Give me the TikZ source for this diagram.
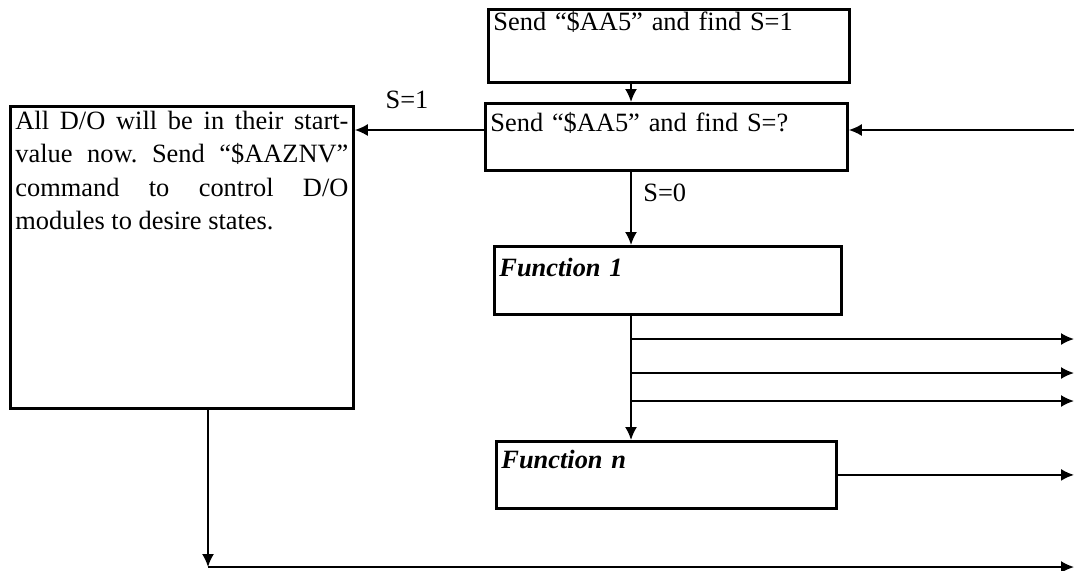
\documentclass[tikz,border=0pt]{standalone}
\usepackage{fontspec}
\setmainfont{Liberation Serif}
\usetikzlibrary{arrows.meta,positioning,calc}
\frenchspacing
\begin{document}
\begin{tikzpicture}[x=0.5pt,y=-0.5pt,>={Latex[length=6.5pt,width=6pt]},
  box/.style={draw,line width=1.4pt,anchor=north west,inner ysep=0pt,inner xsep=2.5pt,align=left,font=\fontsize{13.2pt}{16.75pt}\selectfont},
  conn/.style={line width=0.9pt},
  lbl/.style={inner sep=0pt,font=\fontsize{13.2pt}{16.75pt}\selectfont}]
\useasboundingbox (0,0) rectangle (1074,570);
\node[box,text width=175.5pt,text height=10.5pt,text depth=26pt] (find1) at (487,8) {Send “\$AA5” and find S=1};
\node[box,text width=176pt,text height=14pt,text depth=19.5pt] (find2) at (484,102) {Send “\$AA5” and find S=?};
\node[box,text width=166.5pt,text height=11.5pt,text depth=139.5pt,align=justify] (start) at (9,105) {All D/O will be in their start-\linebreak value now. Send “\$AAZNV”\linebreak command to control D/O\linebreak modules to desire states.};
\node[box,text width=168.5pt,text height=15pt,text depth=19pt,font=\fontsize{13.2pt}{16.75pt}\selectfont\bfseries\itshape] (func1) at (493,245) {Function 1};
\node[box,text width=165pt,text height=13.5pt,text depth=20pt,font=\fontsize{13.2pt}{16.75pt}\selectfont\bfseries\itshape] (funcn) at (495,440) {Function n};
\coordinate (spine) at (631,0);
\coordinate (edge) at (1074,0);
\coordinate (ret) at (1074,130);
\coordinate (drop) at (208,567);
% main path
\draw[conn,->] (find1.south -| spine) -- (find2.north -| spine);
\draw[conn,->] (ret) -- (find2.east |- ret);
\draw[conn,->] (find2.west |- ret) -- (start.east |- ret);
\node[lbl] (s1) at (407,100) {S=1};
\draw[conn,->] (find2.south -| spine) -- (func1.north -| spine);
\node[lbl,anchor=west] (s0) at (643,193) {S=0};
\draw[conn,->] (func1.south -| spine) -- (funcn.north -| spine);
\foreach \y in {339,373,401} {
  \coordinate (br) at (631,\y);
  \draw[conn,->] (br) -- (br -| edge);
}
\draw[conn,->] (funcn.east) -- (funcn.east -| edge);
\draw[conn,->] (start.south -| drop) -- (drop);
\draw[conn,->] (drop) -- (drop -| edge);
\end{tikzpicture}
\end{document}
